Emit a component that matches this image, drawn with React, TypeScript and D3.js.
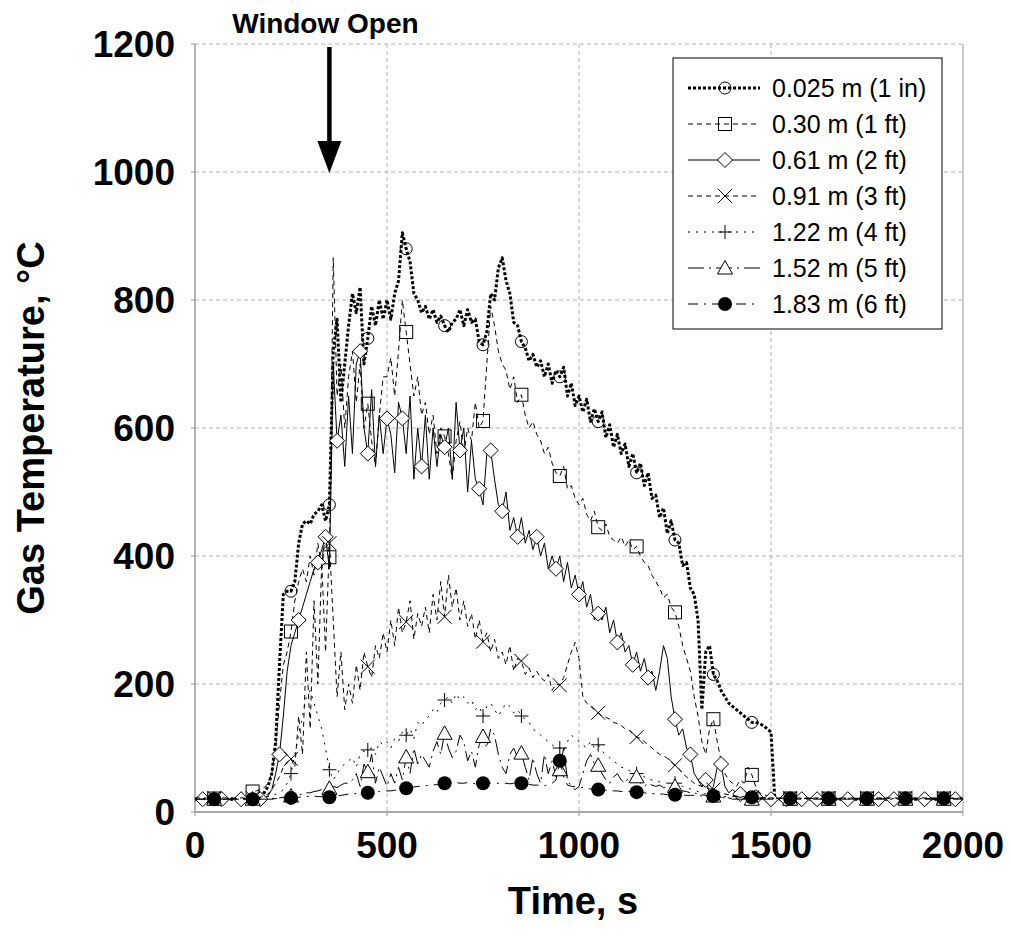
import * as d3 from 'd3';

// sampling grid of the logger, every 10 s
const times = d3.range(0, 2001, 10);

const v025 = [
  20, 20, 20, 20, 20, 20, 20, 20, 20, 20,
  20, 20, 20, 20, 20, 20, 21, 24, 30, 40,
  60, 110, 230, 340, 345, 345, 360, 420, 450, 455,
  450, 465, 470, 480, 455, 480, 720, 770, 640, 700,
  760, 810, 780, 820, 700, 740, 790, 760, 800, 770,
  800, 770, 810, 830, 905, 880, 860, 810, 800, 780,
  790, 770, 785, 765, 775, 760, 750, 765, 770, 785,
  760, 785, 765, 770, 735, 730, 750, 810, 800, 850,
  866, 830, 810, 765, 760, 735, 725, 705, 715, 695,
  705, 680, 700, 670, 690, 680, 695, 650, 670, 635,
  650, 625, 645, 610, 630, 610, 625, 585, 605, 570,
  590, 560, 575, 540, 560, 530, 545, 510, 530, 490,
  495, 460, 475, 435, 455, 425, 420, 385, 390, 350,
  340, 300, 160, 250, 260, 215, 205, 190, 180, 170,
  165, 160, 155, 150, 145, 140, 140, 138, 135, 130,
  125, 20, 20, 20, 20, 20, 20, 20, 20, 20,
  20, 20, 20, 20, 20, 20, 20, 20, 20, 20,
  20, 20, 20, 20, 20, 20, 20, 20, 20, 20,
  20, 20, 20, 20, 20, 20, 20, 20, 20, 20,
  20, 20, 20, 20, 20, 20, 20, 20, 20, 20,
  20,
];

const v030 = [
  21, 21, 21, 21, 21, 21, 21, 21, 21, 21,
  21, 21, 21, 22, 25, 32, 33, 35, 38, 45,
  60, 100, 170, 230, 250, 282, 330, 360, 380, 360,
  400, 370, 420, 380, 440, 398, 866, 650, 700, 600,
  680, 720, 640, 700, 600, 638, 580, 540, 620, 680,
  680, 710, 650, 720, 800, 750, 700, 650, 680, 620,
  640, 590, 620, 560, 600, 587, 560, 520, 580, 610,
  560, 600, 580, 640, 600, 611, 700, 790, 760, 720,
  700, 690, 660, 680, 640, 652, 620, 600, 610, 590,
  580, 560, 570, 545, 530, 525, 540, 505, 510, 490,
  480, 490, 465, 455, 470, 445, 440, 450, 430, 425,
  420, 430, 415, 425, 410, 415, 400, 390, 385, 370,
  360, 350, 335, 340, 320, 312, 290, 260, 240, 220,
  180, 150, 110, 90, 130, 145, 110, 80, 60, 50,
  45, 40, 50, 45, 70, 58, 40, 30, 28, 25,
  22, 21, 21, 21, 21, 21, 21, 21, 21, 21,
  21, 21, 21, 21, 21, 21, 21, 21, 21, 21,
  21, 21, 21, 21, 21, 21, 21, 21, 21, 21,
  21, 21, 21, 21, 21, 21, 21, 21, 21, 21,
  21, 21, 21, 21, 21, 21, 21, 21, 21, 21,
  21,
];

const v061 = [
  20, 20, 20, 20, 20, 20, 20, 20, 20, 20,
  20, 20, 20, 20, 20, 20, 20, 20, 22, 25,
  35, 60, 90, 150, 220, 260, 280, 300, 320, 340,
  360, 380, 390, 410, 430, 380, 700, 580, 620, 540,
  650, 560, 700, 720, 600, 560, 660, 540, 620, 560,
  615, 590, 530, 640, 615, 560, 650, 520, 600, 540,
  620, 520, 600, 540, 590, 570, 600, 520, 640, 565,
  600, 500, 580, 520, 505, 480, 560, 565, 520, 480,
  470, 500, 440, 460, 430, 460, 420, 440, 410, 430,
  400, 420, 380, 400, 380, 400, 360, 390, 350, 370,
  340, 360, 320, 340, 300, 310, 300, 320, 280, 300,
  265, 280, 250, 260, 230, 250, 220, 240, 210, 220,
  190, 220, 260, 240, 180, 145, 120, 130, 100, 90,
  60, 50, 40, 50, 30, 40, 70, 75, 40, 30,
  35, 30, 28, 25, 25, 24, 23, 22, 22, 22,
  20, 20, 20, 20, 20, 20, 20, 20, 20, 20,
  20, 20, 20, 20, 20, 20, 20, 20, 20, 20,
  20, 20, 20, 20, 20, 20, 20, 20, 20, 20,
  20, 20, 20, 20, 20, 20, 20, 20, 20, 20,
  20, 20, 20, 20, 20, 20, 20, 20, 20, 20,
  20,
];

const v091 = [
  22, 22, 22, 22, 22, 22, 22, 22, 22, 22,
  22, 22, 22, 22, 22, 22, 22, 23, 25, 28,
  35, 45, 55, 70, 78, 83, 70, 150, 90, 250,
  130, 330, 200, 390, 250, 420, 300, 180, 250, 160,
  200, 170, 230, 190, 250, 227, 210, 260, 240, 280,
  250, 300, 260, 320, 280, 297, 330, 270, 310, 290,
  320, 280, 340, 300, 360, 305, 370, 320, 350, 300,
  330, 290, 310, 270, 300, 266, 280, 250, 270, 240,
  250, 230, 260, 220, 240, 236, 215, 225, 210, 220,
  210, 205, 215, 190, 200, 198, 210, 230, 250, 265,
  240, 180, 170, 165, 160, 155, 150, 148, 145, 140,
  138, 135, 130, 128, 122, 117, 115, 110, 105, 100,
  95, 90, 88, 84, 78, 73, 68, 60, 55, 50,
  45, 42, 40, 38, 36, 35, 33, 30, 28, 27,
  26, 25, 24, 24, 23, 22, 22, 22, 22, 22,
  22, 22, 22, 22, 22, 22, 22, 22, 22, 22,
  22, 22, 22, 22, 22, 22, 22, 22, 22, 22,
  22, 22, 22, 22, 22, 22, 22, 22, 22, 22,
  22, 22, 22, 22, 22, 22, 22, 22, 22, 22,
  22, 22, 22, 22, 22, 22, 22, 22, 22, 22,
  22,
];

const v122 = [
  21, 21, 21, 21, 21, 21, 21, 21, 21, 21,
  21, 21, 21, 21, 21, 21, 21, 22, 23, 24,
  25, 28, 30, 35, 45, 60, 90, 120, 150, 180,
  190, 170, 150, 130, 100, 66, 50, 60, 70, 75,
  80, 85, 70, 90, 95, 97, 100, 90, 110, 105,
  110, 100, 115, 110, 125, 120, 130, 115, 140, 135,
  145, 150, 160, 155, 170, 175, 180, 170, 185, 175,
  180, 170, 175, 160, 165, 150, 165, 170, 160, 150,
  160, 170, 165, 155, 160, 150, 145, 140, 130, 125,
  120, 115, 110, 105, 100, 100, 95, 110, 120, 115,
  110, 105, 100, 110, 100, 105, 95, 90, 85, 80,
  75, 70, 68, 65, 62, 60, 58, 55, 52, 50,
  48, 47, 46, 45, 45, 45, 42, 40, 38, 36,
  34, 32, 30, 28, 27, 25, 24, 23, 22, 22,
  21, 21, 21, 21, 21, 21, 21, 21, 21, 21,
  21, 21, 21, 21, 21, 21, 21, 21, 21, 21,
  21, 21, 21, 21, 21, 21, 21, 21, 21, 21,
  21, 21, 21, 21, 21, 21, 21, 21, 21, 21,
  21, 21, 21, 21, 21, 21, 21, 21, 21, 21,
  21, 21, 21, 21, 21, 21, 21, 21, 21, 21,
  21,
];

const v152 = [
  20, 20, 20, 20, 20, 20, 20, 20, 20, 20,
  20, 20, 20, 20, 20, 20, 20, 20, 20, 20,
  21, 22, 22, 23, 24, 25, 26, 27, 28, 30,
  30, 32, 33, 35, 34, 37, 40, 38, 42, 45,
  45, 50, 60, 40, 75, 63, 90, 45, 70, 55,
  40, 60, 45, 70, 50, 86, 60, 100, 75, 90,
  80, 70, 95, 110, 90, 123, 100, 85, 95, 120,
  110, 80, 95, 70, 105, 118, 100, 130, 120, 90,
  70, 60, 90, 100, 85, 92, 70, 50, 85, 60,
  45, 90, 60, 80, 55, 66, 100, 50, 40, 35,
  40, 60, 80, 90, 75, 73, 60, 50, 45, 55,
  60, 50, 45, 55, 50, 55, 45, 40, 45, 42,
  40, 42, 38, 40, 36, 40, 35, 33, 32, 30,
  30, 28, 27, 26, 25, 25, 24, 23, 22, 22,
  20, 20, 20, 20, 20, 20, 20, 20, 20, 20,
  20, 20, 20, 20, 20, 20, 20, 20, 20, 20,
  20, 20, 20, 20, 20, 20, 20, 20, 20, 20,
  20, 20, 20, 20, 20, 20, 20, 20, 20, 20,
  20, 20, 20, 20, 20, 20, 20, 20, 20, 20,
  20, 20, 20, 20, 20, 20, 20, 20, 20, 20,
  20,
];

const v183 = [
  20, 20, 20, 20, 20, 20, 20, 20, 20, 20,
  20, 20, 20, 20, 20, 20, 20, 20, 20, 20,
  20, 21, 21, 22, 22, 22, 23, 23, 24, 24,
  25, 25, 24, 24, 23, 23, 24, 25, 26, 27,
  28, 28, 29, 29, 30, 30, 31, 31, 32, 32,
  33, 33, 34, 35, 36, 37, 38, 39, 40, 40,
  41, 42, 42, 43, 44, 45, 45, 45, 46, 45,
  45, 46, 45, 44, 45, 45, 46, 45, 44, 45,
  44, 45, 44, 45, 46, 45, 44, 43, 42, 42,
  42, 41, 43, 45, 50, 80, 55, 42, 40, 40,
  39, 38, 37, 36, 36, 35, 35, 34, 33, 33,
  33, 32, 32, 32, 31, 31, 30, 30, 29, 29,
  28, 28, 28, 27, 27, 27, 27, 26, 26, 26,
  26, 26, 25, 25, 25, 25, 25, 24, 24, 24,
  24, 24, 23, 23, 23, 23, 23, 22, 22, 22,
  21, 21, 21, 21, 21, 21, 21, 21, 21, 21,
  21, 21, 21, 21, 21, 21, 21, 21, 21, 21,
  21, 21, 21, 21, 21, 21, 21, 21, 21, 21,
  21, 21, 21, 21, 21, 21, 21, 21, 21, 21,
  21, 21, 21, 21, 21, 21, 21, 21, 21, 21,
  21,
];

// times at which the plotting program put a marker
const markEvery100 = [
  50, 150, 250, 350, 450, 550, 650, 750, 850, 950,
  1050, 1150, 1250, 1350, 1450, 1550, 1650, 1750, 1850, 1950,
];
const markDiamond = [
  20, 70, 120, 170, 220, 270, 320, 340, 370, 430, 450, 500, 540, 590,
  650, 690, 740, 770, 800, 840, 890, 940, 1000, 1050, 1100, 1140, 1180,
  1250, 1290, 1330, 1370, 1420, 1460, 1500, 1540, 1580, 1620, 1700, 1780,
  1820, 1900, 1980,
];

const labels = [
  '0.025 m (1 in)',
  '0.30 m (1 ft)',
  '0.61 m (2 ft)',
  '0.91 m (3 ft)',
  '1.22 m (4 ft)',
  '1.52 m (5 ft)',
  '1.83 m (6 ft)',
];

const xTicks = [0, 500, 1000, 1500, 2000];
const yTicks = [0, 200, 400, 600, 800, 1000, 1200];
const windowOpenTime = 350;

type Kind = 'circle' | 'square' | 'diamond' | 'x' | 'plus' | 'triangle' | 'dot';

const series: {
  label: string;
  values: number[];
  marks: number[];
  kind: Kind;
  dash: string;
  width: number;
}[] = [
  { label: labels[0], values: v025, marks: markEvery100, kind: 'circle', dash: '3 2', width: 3 },
  { label: labels[1], values: v030, marks: markEvery100, kind: 'square', dash: '5 4', width: 1 },
  { label: labels[2], values: v061, marks: markDiamond, kind: 'diamond', dash: '', width: 1 },
  { label: labels[3], values: v091, marks: markEvery100, kind: 'x', dash: '5 4', width: 1 },
  { label: labels[4], values: v122, marks: markEvery100, kind: 'plus', dash: '2 6', width: 1 },
  { label: labels[5], values: v152, marks: markEvery100, kind: 'triangle', dash: '16 5 2 5', width: 1 },
  { label: labels[6], values: v183, marks: markEvery100, kind: 'dot', dash: '10 6 2 6', width: 1 },
];

function Marker({ kind, x, y }: { kind: Kind; x: number; y: number }) {
  const s = 6.5;
  switch (kind) {
    case 'circle':
      return (
        <g>
          <circle cx={x} cy={y} r={6} fill="none" stroke="#000" strokeWidth={1} />
          <circle cx={x} cy={y} r={1} fill="#000" />
        </g>
      );
    case 'square':
      return (
        <rect x={x - s} y={y - s} width={2 * s} height={2 * s} fill="none" stroke="#000" strokeWidth={1} />
      );
    case 'diamond':
      return (
        <path
          d={`M${x},${y - 7.5}L${x + 7.5},${y}L${x},${y + 7.5}L${x - 7.5},${y}Z`}
          fill="#fff"
          stroke="#000"
          strokeWidth={1}
        />
      );
    case 'x':
      return (
        <path
          d={`M${x - 7},${y - 7}L${x + 7},${y + 7}M${x - 7},${y + 7}L${x + 7},${y - 7}`}
          stroke="#000"
          strokeWidth={1}
        />
      );
    case 'plus':
      return (
        <path d={`M${x - 7},${y}L${x + 7},${y}M${x},${y - 7}L${x},${y + 7}`} stroke="#000" strokeWidth={1} />
      );
    case 'triangle':
      return (
        <path
          d={`M${x},${y - 7.5}L${x + 7.5},${y + 6}L${x - 7.5},${y + 6}Z`}
          fill="#fff"
          stroke="#000"
          strokeWidth={1}
        />
      );
    default:
      return <circle cx={x} cy={y} r={7} fill="#000" />;
  }
}

export default function App() {
  const W = 1011;
  const H = 946;
  const m = { left: 195, right: 963, top: 44, bottom: 812 };

  const x = d3.scaleLinear().domain([0, 2000]).range([m.left, m.right]);
  const y = d3.scaleLinear().domain([0, 1200]).range([m.bottom, m.top]);

  const line = (vals: number[]) =>
    d3
      .line<number>()
      .x((_, i) => x(times[i]))
      .y((d) => y(d))(vals) ?? '';

  const font = 'Arial, "Liberation Sans", Helvetica, sans-serif';
  const grid = '#b4b4b4';
  const ax = x(windowOpenTime);

  const lg = { x: 673, y: 58, w: 269, h: 271, row: 36 };

  return (
    <svg
      width={W}
      height={H}
      style={{ position: 'absolute', left: 0, top: 0, background: '#fff' }}
      fontFamily={font}
    >
      <rect width={W} height={H} fill="#fff" />

      {/* grid */}
      {yTicks.map((t) => (
        <line
          key={'gy' + t}
          x1={m.left}
          x2={m.right}
          y1={y(t)}
          y2={y(t)}
          stroke={grid}
          strokeDasharray={t === 0 ? '' : '4 3'}
          strokeWidth={1}
        />
      ))}
      {xTicks.slice(1, -1).map((t) => (
        <line
          key={'gx' + t}
          x1={x(t)}
          x2={x(t)}
          y1={m.top}
          y2={m.bottom}
          stroke={grid}
          strokeDasharray="4 3"
          strokeWidth={1}
        />
      ))}
      <line x1={m.left} x2={m.left} y1={m.top} y2={m.bottom} stroke="#999" strokeWidth={1.5} />
      <line x1={m.right} x2={m.right} y1={m.top} y2={m.bottom} stroke="#bbb" strokeWidth={1.5} />
      <line x1={m.left} x2={m.right} y1={m.bottom} y2={m.bottom} stroke="#999" strokeWidth={1.5} />
      {yTicks.map((t) => (
        <line key={'ty' + t} x1={m.left - 4} x2={m.left} y1={y(t)} y2={y(t)} stroke="#999" />
      ))}
      {xTicks.map((t) => (
        <line key={'tx' + t} x1={x(t)} x2={x(t)} y1={m.bottom} y2={m.bottom + 4} stroke="#999" />
      ))}

      {/* series */}
      {series.map((s) => (
        <g key={s.label}>
          <path
            d={line(s.values)}
            fill="none"
            stroke="#000"
            strokeWidth={s.width}
            strokeDasharray={s.dash || undefined}
            strokeLinejoin="round"
          />
          {s.marks.map((t) => (
            <Marker key={t} kind={s.kind} x={x(t)} y={y(s.values[times.indexOf(t)])} />
          ))}
        </g>
      ))}

      {/* tick labels */}
      {yTicks.map((t) => (
        <text
          key={'ly' + t}
          x={175}
          y={y(t)}
          dy="0.36em"
          textAnchor="end"
          fontSize={37}
          fontWeight="bold"
        >
          {t}
        </text>
      ))}
      {xTicks.map((t) => (
        <text key={'lx' + t} x={x(t)} y={858} textAnchor="middle" fontSize={37} fontWeight="bold">
          {t}
        </text>
      ))}

      {/* axis titles */}
      <text x={(m.left + m.right) / 2 - 6} y={914} textAnchor="middle" fontSize={38} fontWeight="bold">
        Time, s
      </text>
      <text
        transform={`translate(44, ${(m.top + m.bottom) / 2}) rotate(-90)`}
        textAnchor="middle"
        fontSize={38}
        fontWeight="bold"
      >
        Gas Temperature, °C
      </text>

      {/* annotation */}
      <text x={ax - 4} y={33} textAnchor="middle" fontSize={28} fontWeight="bold">
        Window Open
      </text>
      <line x1={ax} x2={ax} y1={47} y2={143} stroke="#000" strokeWidth={4.5} />
      <path d={`M${ax - 12},141L${ax + 12},141L${ax},173Z`} fill="#000" />

      {/* legend */}
      <rect x={lg.x} y={lg.y} width={lg.w} height={lg.h} fill="#fff" stroke="#000" strokeWidth={1} />
      {series.map((s, i) => {
        const cy = lg.y + 30 + i * lg.row;
        return (
          <g key={'lg' + s.label}>
            <line
              x1={lg.x + 15}
              x2={lg.x + 87}
              y1={cy}
              y2={cy}
              stroke="#000"
              strokeWidth={s.width}
              strokeDasharray={s.dash || undefined}
            />
            <Marker kind={s.kind} x={lg.x + 52} y={cy} />
            <text x={lg.x + 99} y={cy} dy="0.36em" fontSize={25}>
              {s.label}
            </text>
          </g>
        );
      })}
    </svg>
  );
}
